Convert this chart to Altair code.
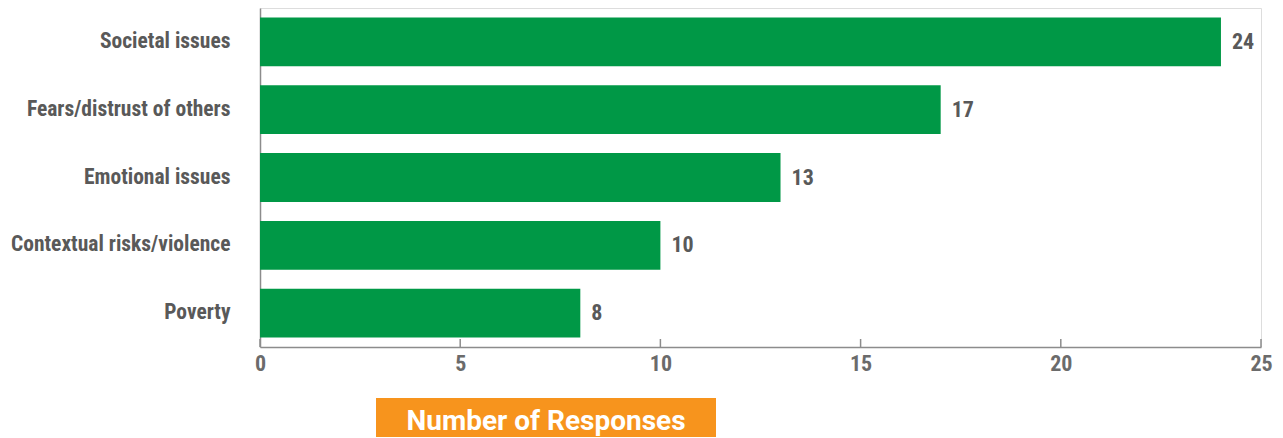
import altair as alt
import pandas as pd

categories = ["Societal issues", "Fears/distrust of others", "Emotional issues",
              "Contextual risks/violence", "Poverty"]
values = [24, 17, 13, 10, 8]
tick_values = [0, 5, 10, 15, 20, 25]
title_text = "Number of Responses"

df = pd.DataFrame({"category": categories, "value": values})
ticks_df = pd.DataFrame({"t": tick_values})
title_df = pd.DataFrame({"label": [title_text]})

FONT = "Roboto Condensed, Roboto"
GREEN = "#009846"
GRAY = "#595959"

x_scale = alt.Scale(domain=[0, 25], nice=False)
y_scale = alt.Scale(paddingInner=0.28, paddingOuter=0.14)

bars = alt.Chart(df).mark_bar(color=GREEN).encode(
    x=alt.X("value:Q", scale=x_scale,
            axis=alt.Axis(values=tick_values, ticks=False, grid=False, title=None,
                          domainColor="#8c8c8c", domainWidth=1.5, labelFlush=False,
                          labelFont=FONT, labelFontWeight="bold", labelFontSize=22,
                          labelColor="#6b6b6b", labelPadding=6)),
    y=alt.Y("category:N", sort=categories, scale=y_scale,
            axis=alt.Axis(ticks=False, title=None, domainColor="#8c8c8c", domainWidth=1.5,
                          labelFont=FONT, labelFontWeight="bold", labelFontSize=21.5,
                          labelColor=GRAY, labelPadding=30, labelLimit=300)),
)

labels = alt.Chart(df).mark_text(
    align="left", baseline="middle", dx=11, font=FONT, fontWeight="bold",
    fontSize=22, color=GRAY
).encode(
    x=alt.X("value:Q", scale=x_scale),
    y=alt.Y("category:N", sort=categories, scale=y_scale),
    text="value:Q",
)

tick_marks = alt.Chart(ticks_df).mark_rule(color="#8c8c8c", strokeWidth=1.5).encode(
    x=alt.X("t:Q", scale=x_scale),
    y=alt.value(331),
    y2=alt.value(339),
)

title_box = alt.Chart(title_df).mark_rect(color="#F7941D", clip=False).encode(
    x=alt.value(116), x2=alt.value(456), y=alt.value(390), y2=alt.value(440)
)
title_label = alt.Chart(title_df).mark_text(
    font="Roboto", fontWeight="bold", fontSize=28, color="white",
    align="center", baseline="alphabetic", clip=False
).encode(x=alt.value(286), y=alt.value(422), text="label:N")

chart = alt.layer(bars, labels, tick_marks, title_box, title_label).properties(
    width=1001, height=339,
    autosize=alt.AutoSizeParams(type="none"),
    padding={"left": 252, "top": 0, "right": 14, "bottom": 90},
).configure_view(stroke=None).configure(background="white")

chart.save("out.html", embed_options={"renderer": "svg", "actions": False})
